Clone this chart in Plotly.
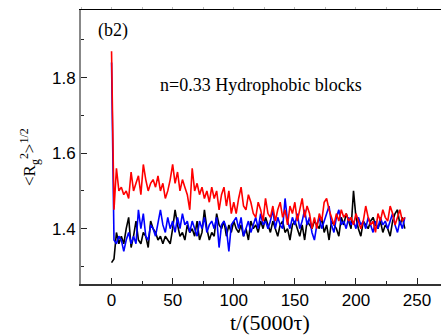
import plotly.graph_objects as go

t = list(range(0, 241, 2))

red = [1.87, 1.45, 1.56, 1.50, 1.51, 1.49, 1.50, 1.48, 1.55, 1.50,
       1.52, 1.54, 1.49, 1.57, 1.53, 1.50, 1.52, 1.53, 1.51, 1.54,
       1.50, 1.52, 1.48, 1.50, 1.53, 1.57, 1.52, 1.55, 1.50, 1.53,
       1.51, 1.49, 1.45, 1.56, 1.50, 1.52, 1.49, 1.51, 1.48, 1.50,
       1.47, 1.51, 1.48, 1.50, 1.45, 1.49, 1.51, 1.46, 1.50, 1.44,
       1.47, 1.44, 1.48, 1.51, 1.46, 1.45, 1.49, 1.47, 1.44, 1.43,
       1.47, 1.45, 1.42, 1.48, 1.44, 1.43, 1.46, 1.42, 1.45, 1.47,
       1.43, 1.45, 1.41, 1.46, 1.44, 1.47, 1.42, 1.45, 1.48, 1.43,
       1.46, 1.44, 1.40, 1.43, 1.40, 1.44, 1.42, 1.47, 1.48, 1.45,
       1.43, 1.41, 1.44, 1.42, 1.45, 1.43, 1.44, 1.42, 1.43, 1.41,
       1.44, 1.42, 1.40, 1.42, 1.46, 1.43, 1.41, 1.42, 1.39, 1.44,
       1.42, 1.45, 1.43, 1.42, 1.46, 1.44, 1.41, 1.43, 1.45, 1.42,
       1.43]

blue = [1.84, 1.37, 1.36, 1.38, 1.37, 1.34, 1.37, 1.39, 1.36, 1.38,
        1.36, 1.45, 1.40, 1.44, 1.38, 1.37, 1.41, 1.40, 1.38, 1.42,
        1.45, 1.41, 1.39, 1.43, 1.40, 1.42, 1.39, 1.43, 1.40, 1.44,
        1.41, 1.42, 1.39, 1.42, 1.40, 1.38, 1.42, 1.40, 1.43, 1.39,
        1.41, 1.42, 1.40, 1.43, 1.35, 1.41, 1.42, 1.40, 1.34, 1.41,
        1.42, 1.43, 1.40, 1.43, 1.38, 1.40, 1.42, 1.39, 1.41, 1.43,
        1.40, 1.44, 1.41, 1.42, 1.40, 1.42, 1.45, 1.40, 1.43, 1.41,
        1.40, 1.48, 1.42, 1.40, 1.43, 1.41, 1.44, 1.40, 1.42, 1.45,
        1.41, 1.43, 1.39, 1.37, 1.41, 1.43, 1.40, 1.42, 1.44, 1.46,
        1.41, 1.39, 1.43, 1.45, 1.41, 1.42, 1.40, 1.43, 1.41, 1.42,
        1.40, 1.43, 1.41, 1.42, 1.40, 1.43, 1.41, 1.39, 1.42, 1.40,
        1.43, 1.41, 1.42, 1.40, 1.42, 1.44, 1.41, 1.39, 1.42, 1.40,
        1.43]

black = [1.31, 1.32, 1.39, 1.36, 1.38, 1.36, 1.40, 1.43, 1.35, 1.38,
         1.42, 1.37, 1.36, 1.39, 1.38, 1.35, 1.42, 1.40, 1.39, 1.37,
         1.38, 1.36, 1.38, 1.37, 1.36, 1.40, 1.45, 1.41, 1.38, 1.39,
         1.37, 1.41, 1.39, 1.40, 1.38, 1.42, 1.37, 1.39, 1.45, 1.40,
         1.37, 1.39, 1.38, 1.44, 1.41, 1.40, 1.42, 1.38, 1.41, 1.39,
         1.42, 1.40, 1.39, 1.41, 1.38, 1.40, 1.37, 1.42, 1.40, 1.41,
         1.39, 1.42, 1.40, 1.43, 1.41, 1.39, 1.42, 1.40, 1.38, 1.41,
         1.42, 1.39, 1.40, 1.37, 1.41, 1.42, 1.40, 1.38, 1.41, 1.37,
         1.42, 1.41, 1.40, 1.42, 1.41, 1.40, 1.43, 1.39, 1.41, 1.37,
         1.42, 1.41, 1.40, 1.38, 1.43, 1.41, 1.44, 1.42, 1.40, 1.50,
         1.43, 1.40, 1.38, 1.42, 1.41, 1.40, 1.42, 1.43, 1.41, 1.40,
         1.42, 1.39, 1.41, 1.40, 1.38, 1.42, 1.44, 1.45, 1.41, 1.43,
         1.40]

x_ticks = [0, 50, 100, 150, 200, 250]
y_ticks = [1.4, 1.6, 1.8]

fig = go.Figure()
for ys, col in [(black, "black"), (blue, "#0000ff"), (red, "#ff0000")]:
    fig.add_trace(go.Scatter(x=t, y=ys, mode="lines",
                             line=dict(color=col, width=1.6),
                             showlegend=False, hoverinfo="skip"))

# invisible trace for top axis
fig.add_trace(go.Scatter(x=[0], y=[1.4], xaxis="x2", mode="markers",
                         marker=dict(opacity=0), showlegend=False, hoverinfo="skip"))

tickfont = dict(family="Liberation Sans, Arial, sans-serif", size=17, color="black")
serif = "Liberation Serif, Times New Roman, serif"

fig.update_layout(
    width=441, height=336,
    margin=dict(l=81, r=0, t=10, b=52),
    paper_bgcolor="white", plot_bgcolor="white",
    xaxis=dict(range=[-25, 269.6], tickvals=x_ticks, ticks="inside", ticklen=6,
               tickcolor="#222", tickwidth=1.2, automargin=False,
               minor=dict(ticks="inside", ticklen=3, dtick=25, tickcolor="#222"),
               showline=True, linecolor="#333", linewidth=1.5,
               showgrid=False, zeroline=False, tickfont=tickfont),
    xaxis2=dict(range=[-25, 269.6], overlaying="x", side="top", ticks="outside",
                ticklen=2, tickcolor="#bbb", dtick=25, tick0=0, automargin=False,
                showticklabels=False, showline=True, linecolor="black", linewidth=1,
                showgrid=False, zeroline=False),
    yaxis=dict(range=[1.2535, 1.979], tickvals=y_ticks, ticktext=["1.4", "1.6", "1.8"],
               ticks="inside", ticklen=6, tickcolor="#222", tickwidth=1.2, automargin=False,
               minor=dict(ticks="inside", ticklen=3, tickvals=[1.3, 1.5, 1.7, 1.9], tickcolor="#222"),
               showline=True, linecolor="#888", linewidth=2,
               showgrid=False, zeroline=False, tickfont=tickfont),
    annotations=[
        dict(text="(b2)", x=96, y=31, xref="paper", yref="paper",
             xanchor="left", yanchor="middle", showarrow=False,
             font=dict(family=serif, size=18, color="black")),
        dict(text="n=0.33 Hydrophobic blocks", x=158, y=85, xref="paper", yref="paper",
             xanchor="left", yanchor="middle", showarrow=False,
             font=dict(family=serif, size=18, color="black")),
        dict(text="t/(5000τ)", x=270, y=322, xref="paper", yref="paper",
             xanchor="center", yanchor="middle", showarrow=False,
             font=dict(family=serif, size=22, color="black")),
        dict(text="&lt;R<sub>g</sub><sup>2</sup>&gt;<sup>1/2</sup>", x=29, y=157,
             xref="paper", yref="paper", textangle=-90,
             xanchor="center", yanchor="middle", showarrow=False,
             font=dict(family=serif, size=17, color="black")),
    ],
)

# convert pixel positions of annotations to paper coordinates
W, H = 441, 336
L, R, T, B = 81, 0, 10, 52
pw, ph = W - L - R, H - T - B
for a in fig.layout.annotations:
    a.x = (a.x - L) / pw
    a.y = 1 - (a.y - T) / ph

fig.write_html("out.html", config={"displayModeBar": False},
               post_script="document.body.style.margin='0';document.body.style.overflow='hidden';")
